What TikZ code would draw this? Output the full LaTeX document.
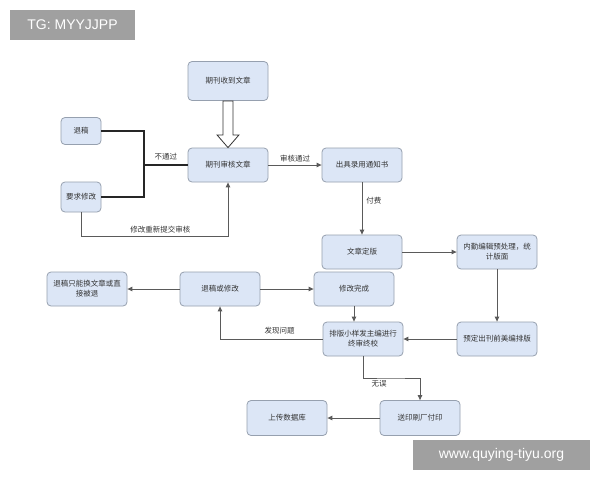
\documentclass[tikz,border=0pt]{standalone}
\usepackage{fontspec}
\usepackage{xcolor}
\usepackage{tikz}
\usetikzlibrary{arrows.meta, positioning}
\newfontfamily\cjk{Noto Sans CJK SC}
\setsansfont{Liberation Sans}
\definecolor{boxblue}{RGB}{220,230,246}
\definecolor{boxline}{RGB}{150,160,175}
\definecolor{linegray}{RGB}{90,90,90}
\definecolor{tagbg}{RGB}{160,160,160}

\begin{document}
\begin{tikzpicture}[x=1pt, y=-1pt,
  box/.style={rectangle, rounded corners=4pt, draw=boxline, fill=boxblue, line width=0.8pt, minimum width=80pt, minimum height=34pt, align=center, font=\cjk\fontsize{7.5}{10}\selectfont, text=black!80},
  arr/.style={-{Triangle[length=5pt, width=4.5pt]}, draw=linegray, line width=0.9pt},
  thk/.style={draw=black!85, line width=1.8pt},
  lbl/.style={font=\cjk\fontsize{7.5}{9}\selectfont, text=black!80, inner sep=1pt},
  tag/.style={rectangle, fill=tagbg, text=white, font=\sffamily\fontsize{14}{16}\selectfont, inner sep=0pt}
]
\useasboundingbox[fill=white] (0,0) rectangle (600,480);

% watermarks
\node[tag, minimum width=125pt, minimum height=30pt] (tgmark) at (72.5,25) {TG: MYYJJPP};
\node[tag, minimum width=177pt, minimum height=30pt] (webmark) at (501.5,455) {www.quying-tiyu.org};

% boxes
\node[box, minimum height=39pt] (recv) at (228,81) {期刊收到文章};
\node[box] (review) at (228,165) {期刊审核文章};
\node[box, minimum width=40pt, minimum height=27pt] (reject) at (81,131) {退稿};
\node[box, minimum width=40pt, minimum height=30pt] (askmod) at (81,197) {要求修改};
\node[box] (notice) at (362,165) {出具录用通知书};
\node[box] (final) at (362,252) {文章定版};
\node[box] (prep) at (497,252) {内勤编辑预处理，统\\计版面};
\node[box] (layout) at (497,339) {预定出刊前美编排版};
\node[box] (proof) at (363,339) {排版小样发主编进行\\终审终校};
\node[box] (modok) at (354,289) {修改完成};
\node[box] (backmod) at (220,289) {退稿或修改};
\node[box] (dropped) at (87,289) {退稿只能换文章或直\\接被退};
\node[box, minimum height=35pt] (print) at (420,418) {送印刷厂付印};
\node[box, minimum height=35pt] (upload) at (287,418) {上传数据库};

% hollow arrow
\draw[draw=black!80, fill=white, line width=0.8pt]
  ([xshift=-5pt]recv.south) -- ([xshift=-5pt, yshift=-34pt]recv.south)
  -- ([xshift=-11pt, yshift=-34pt]recv.south) -- (review.north)
  -- ([xshift=11pt, yshift=-34pt]recv.south) -- ([xshift=5pt, yshift=-34pt]recv.south)
  -- ([xshift=5pt]recv.south) -- cycle;

% rejected branch
\coordinate (join) at (144,165);
\draw[thk] (reject.east) -| (join) |- (askmod.east);
\draw[thk] (join) -- node[lbl, above=3pt] {不通过} (review.west);
\draw[arr] (askmod.south) -- ++(0,24) -| node[lbl, pos=0.27, above=2pt] {修改重新提交审核} (review.south);

% main flow
\draw[arr] (review.east) -- node[lbl, above=1pt] {审核通过} (notice.west);
\draw[arr] (notice.south) -- node[lbl, right=3pt, pos=0.35] {付费} (final.north);
\draw[arr] (final.east) -- (prep.west);
\draw[arr] (prep.south) -- (layout.north);
\draw[arr] (layout.west) -- (proof.east);
\draw[arr] (modok.south) -- (modok.south |- proof.north);
\draw[arr] (proof.west) -| node[lbl, pos=0.21, above=3pt] {发现问题} (backmod.south);
\draw[arr] (backmod.east) -- (modok.west);
\draw[arr] (backmod.west) -- (dropped.east);
\draw[arr] (proof.south) |- (390,378) -| (print.north);
\node[lbl] (noerr) at (379,384) {无误};
\draw[arr] (print.west) -- (upload.east);
\end{tikzpicture}
\end{document}
